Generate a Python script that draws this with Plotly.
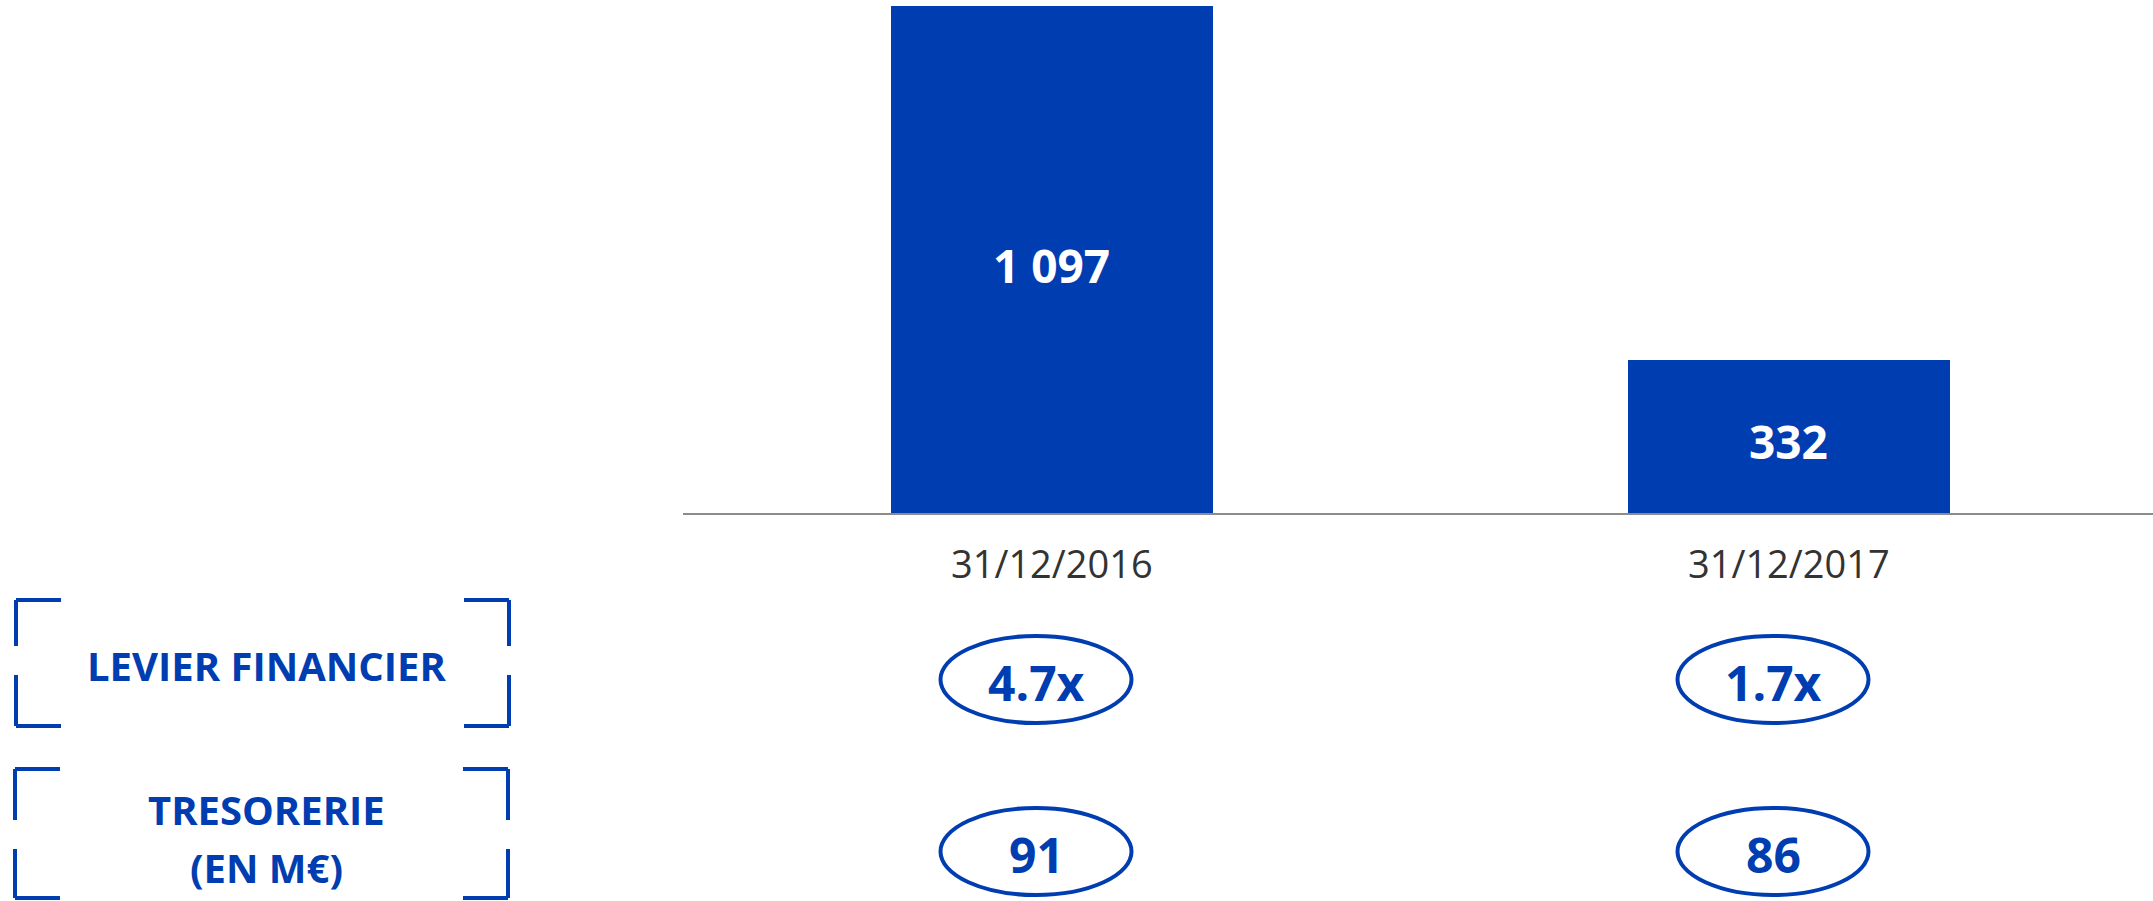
import plotly.graph_objects as go

# ---- data -------------------------------------------------------------
dates = ["31/12/2016", "31/12/2017"]
dette_nette = [1097, 332]            # M€
dette_labels = ["1 097", "332"]
levier = ["4.7x", "1.7x"]
tresorerie = ["91", "86"]
row_titles = ["LEVIER FINANCIER", "TRESORERIE", "(EN M€)"]

# ---- style / geometry -------------------------------------------------
W, H = 2153, 901
BLUE = "#003DB0"
GREY_TXT = "#333333"
AXIS_GREY = "#8c8c8c"
FONT = "Open Sans"

AXIS_Y = 513          # baseline of the bars (px from top)
PLOT_X0 = 683         # left end of the baseline
CAT_PX = 737          # distance between the two categories
PX_PER_UNIT = 507 / 1097


def py(p):
    """pixel row -> paper y"""
    return 1 - p / H


def px(p):
    """pixel column -> paper x"""
    return p / W


fig = go.Figure()

fig.add_trace(go.Bar(
    x=dates,
    y=dette_nette,
    marker=dict(color=BLUE, line=dict(width=0)),
    width=322 / CAT_PX,
    hoverinfo="skip",
))

shapes = []
annotations = []

# value labels inside the bars, centred on each bar (slightly below middle)
for i, (v, lab) in enumerate(zip(dette_nette, dette_labels)):
    annotations.append(dict(
        x=i, xref="x", y=v / 2, yref="y", yshift=-5,
        text=f"<b>{lab}</b>", showarrow=False,
        xanchor="center", yanchor="middle",
        font=dict(family=FONT, size=46, color="white"),
    ))

# date labels under the baseline
for i, d in enumerate(dates):
    annotations.append(dict(
        x=i, xref="x", y=py(563), yref="paper",
        text=d, showarrow=False, xanchor="center", yanchor="middle",
        font=dict(family=FONT, size=38, color=GREY_TXT),
    ))

# ringed values: leverage and cash rows
rows = [(levier, 636, 723), (tresorerie, 808, 895)]
for values, top, bot in rows:
    for i, v in enumerate(values):
        shapes.append(dict(
            type="circle", xref="x", xsizemode="pixel", xanchor=i,
            x0=-111, x1=80,
            yref="paper", y0=py(bot), y1=py(top),
            line=dict(color=BLUE, width=4), fillcolor="rgba(0,0,0,0)",
        ))
        annotations.append(dict(
            x=i, xref="x", xshift=-15,
            y=py((top + bot) / 2 + 3), yref="paper",
            text=f"<b>{v}</b>", showarrow=False,
            xanchor="center", yanchor="middle",
            font=dict(family=FONT, size=48, color=BLUE),
        ))


# bracket frames around the row titles
def bracket_frame(left, right, top, bot, gap_top, gap_bot, arm=45, lw=4):
    segs = []
    for x, sgn in ((left, 1), (right, -1)):
        # corner arms
        segs.append((x, top, x + sgn * arm, top))
        segs.append((x, bot, x + sgn * arm, bot))
        # vertical pieces with a break in the middle
        segs.append((x, top, x, gap_top))
        segs.append((x, gap_bot, x, bot))
    out = []
    for x0, y0, x1, y1 in segs:
        out.append(dict(
            type="line", xref="paper", yref="paper",
            x0=px(x0), x1=px(x1), y0=py(y0), y1=py(y1),
            line=dict(color=BLUE, width=lw),
        ))
    return out


shapes += bracket_frame(16, 509, 600, 726, 646, 675)
shapes += bracket_frame(15, 508, 769, 898, 820, 849)

title_rows = [665, 809, 867]
for t, yc in zip(row_titles, title_rows):
    annotations.append(dict(
        x=px(266), xref="paper", y=py(yc), yref="paper",
        text=f"<b>{t}</b>", showarrow=False,
        xanchor="center", yanchor="middle",
        font=dict(family=FONT, size=40, color=BLUE),
    ))

fig.update_layout(
    width=W, height=H,
    margin=dict(l=0, r=0, t=0, b=0),
    paper_bgcolor="white", plot_bgcolor="white",
    showlegend=False,
    bargap=0,
    shapes=shapes,
    annotations=annotations,
    xaxis=dict(
        type="category",
        domain=[px(PLOT_X0), 1],
        range=[-0.5, -0.5 + (W - PLOT_X0) / CAT_PX],
        showticklabels=False, ticks="",
        showgrid=False, zeroline=False,
        showline=True, linecolor=AXIS_GREY, linewidth=2,
        fixedrange=True,
    ),
    yaxis=dict(
        domain=[py(AXIS_Y), 1],
        range=[0, AXIS_Y / PX_PER_UNIT],
        visible=False, showgrid=False, zeroline=False,
        fixedrange=True,
    ),
)

fig.write_html("out.html", config={"displayModeBar": False})
